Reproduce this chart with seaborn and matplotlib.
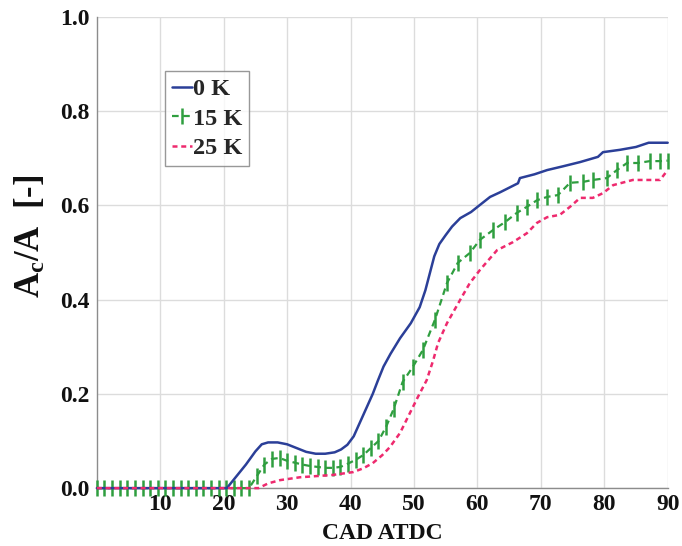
import numpy as np
import pandas as pd
import matplotlib
matplotlib.use("Agg")
import matplotlib.pyplot as plt
import seaborn as sns

# ---- data ----
blue_x = [0, 20.5, 22, 23.5, 25, 26, 27, 28.5, 30, 31.5, 33, 34.5, 36, 37.5, 38.5, 39.5,
          40.5, 41.5, 42.5, 43.5, 44.3, 45.2, 46.3, 47.8, 49.5, 50.9, 51.8, 52.5, 53.2, 54,
          55, 56, 57.3, 59, 60.4, 62, 63.6, 66.4, 66.7, 69, 71, 73.5, 76.2, 79, 79.8, 82.5,
          85, 87, 90]
blue_y = [0, 0, 0.025, 0.05, 0.078, 0.093, 0.097, 0.097, 0.093, 0.085, 0.077, 0.073, 0.073,
          0.076, 0.082, 0.092, 0.11, 0.14, 0.17, 0.2, 0.228, 0.258, 0.285, 0.318, 0.35, 0.384,
          0.42, 0.456, 0.492, 0.518, 0.537, 0.555, 0.573, 0.586, 0.601, 0.618, 0.628, 0.647,
          0.658, 0.666, 0.675, 0.683, 0.692, 0.703, 0.713, 0.718, 0.724, 0.733, 0.733]

green_x = [0, 1.2, 2.4, 3.6, 4.8, 6, 7.2, 8.4, 9.6, 10.8, 12, 13.2, 14.4, 15.6, 16.8, 18,
           19.2, 20.4, 21.6, 22.8, 24, 25.2, 26.4, 27.6, 28.8, 30, 31.2, 32.4, 33.6, 34.8,
           36, 37.2, 38.4, 39.6, 40.8, 42, 43.2, 44.4, 45.6, 46.8, 48.2, 49.8, 51.4, 53.3,
           55.2, 56.9, 58.8, 60.4, 62.5, 64.4, 66.2, 67.8, 69.4, 71, 72.7, 74.6, 76.7, 78.2,
           80.4, 82, 83.6, 85.3, 87.2, 88.8, 90]
green_y = [0] * 21 + [0.025, 0.05, 0.062, 0.064, 0.058, 0.054, 0.05, 0.047, 0.045, 0.043,
                      0.043, 0.045, 0.052, 0.06, 0.07, 0.085, 0.1, 0.13, 0.168, 0.225, 0.257,
                      0.293, 0.357, 0.435, 0.478, 0.499, 0.527, 0.548, 0.565, 0.584, 0.597,
                      0.611, 0.618, 0.622, 0.648, 0.65, 0.654, 0.658, 0.675, 0.69, 0.69,
                      0.694, 0.694, 0.695]

pink_x = [0, 25.5, 27, 28.9, 32, 37.2, 40.4, 42, 43.5, 45, 46.2, 47.8, 49.2, 50.6, 52, 53,
          53.8, 55.2, 57.3, 58.8, 60.4, 63.1, 65.6, 67.8, 69.4, 71, 73, 74.6, 76.2, 78.2,
          79.8, 81.4, 84.5, 88.8, 90]
pink_y = [0, 0, 0.01, 0.017, 0.023, 0.028, 0.034, 0.042, 0.053, 0.07, 0.087, 0.117, 0.155,
          0.193, 0.229, 0.27, 0.308, 0.35, 0.4, 0.435, 0.463, 0.505, 0.522, 0.541, 0.563,
          0.575, 0.58, 0.597, 0.616, 0.616, 0.626, 0.643, 0.654, 0.654, 0.675]

labels = ["0 K", "15 K", "25 K"]
x_ticks = [10, 20, 30, 40, 50, 60, 70, 80, 90]
y_ticks = [0.0, 0.2, 0.4, 0.6, 0.8, 1.0]

# ---- style ----
sns.set_theme(style="white")
plt.rcParams["font.family"] = ["Liberation Serif", "DejaVu Serif"]
plt.rcParams["font.weight"] = "bold"
plt.rcParams["mathtext.fontset"] = "custom"
plt.rcParams["mathtext.rm"] = "Liberation Serif:bold"
plt.rcParams["mathtext.it"] = "Liberation Serif:bold"
plt.rcParams["mathtext.bf"] = "Liberation Serif:bold"
plt.rcParams["mathtext.default"] = "rm"

fig = plt.figure(figsize=(6.82, 5.46), dpi=100)
ax = fig.add_axes([0.142, 0.106, 0.837, 0.863])

blue_c = "#2b3f98"
green_c = "#2f9e3f"
pink_c = "#ee2a6e"

df_b = pd.DataFrame({"x": blue_x, "y": blue_y})
df_g = pd.DataFrame({"x": green_x, "y": green_y})
df_p = pd.DataFrame({"x": pink_x, "y": pink_y})

sns.lineplot(data=df_b, x="x", y="y", ax=ax, color=blue_c, lw=1.8, label=labels[0],
             clip_on=False, zorder=4)
sns.lineplot(data=df_g, x="x", y="y", ax=ax, color=green_c, lw=1.6, label=labels[1],
             linestyle=(0, (3, 2)), marker="|", markersize=12, markeredgewidth=1.8,
             markeredgecolor=green_c, clip_on=False, zorder=3)
sns.lineplot(data=df_p, x="x", y="y", ax=ax, color=pink_c, lw=1.8, label=labels[2],
             linestyle=(0, (2, 1.5)), clip_on=False, zorder=5)

ax.set_xlim(0, 90)
ax.set_ylim(0, 1.0)
ax.set_xticks(x_ticks)
ax.set_yticks(y_ticks)
ax.set_xticklabels([str(t) for t in x_ticks], fontsize=17, fontweight="bold")
ax.set_yticklabels([f"{t:.1f}" for t in y_ticks], fontsize=17, fontweight="bold")
ax.grid(True, color="#dcdcdc", lw=1.0)
ax.set_axisbelow(True)
for s in ["top", "right"]:
    ax.spines[s].set_visible(False)
for s in ["left", "bottom"]:
    ax.spines[s].set_color("#8c8c8c")
    ax.spines[s].set_linewidth(1.0)
ax.tick_params(axis="y", length=4, width=1, color="#8c8c8c", pad=1, labelcolor="#111111")
ax.tick_params(axis="x", length=0, pad=4, labelcolor="#111111")

ax.set_xlabel("CAD ATDC", fontsize=17, fontweight="bold", color="#111111", labelpad=6)
ax.set_ylabel(r"A$_{\mathbf{c}}$/A  [-]", fontsize=25, fontweight="bold", color="#111111",
              labelpad=9)
ax.yaxis.label.set_y(0.535)

leg = ax.legend(loc="upper left", bbox_to_anchor=(0.119, 0.885), frameon=True,
                fancybox=False, edgecolor="#7f7f7f", handlelength=0.8, handletextpad=0.05,
                borderpad=0.3, borderaxespad=0, labelspacing=0.3,
                prop={"family": "Liberation Serif", "weight": "bold", "size": 17.5})
leg.get_frame().set_linewidth(1.0)

fig.savefig("out.png", dpi=100)
